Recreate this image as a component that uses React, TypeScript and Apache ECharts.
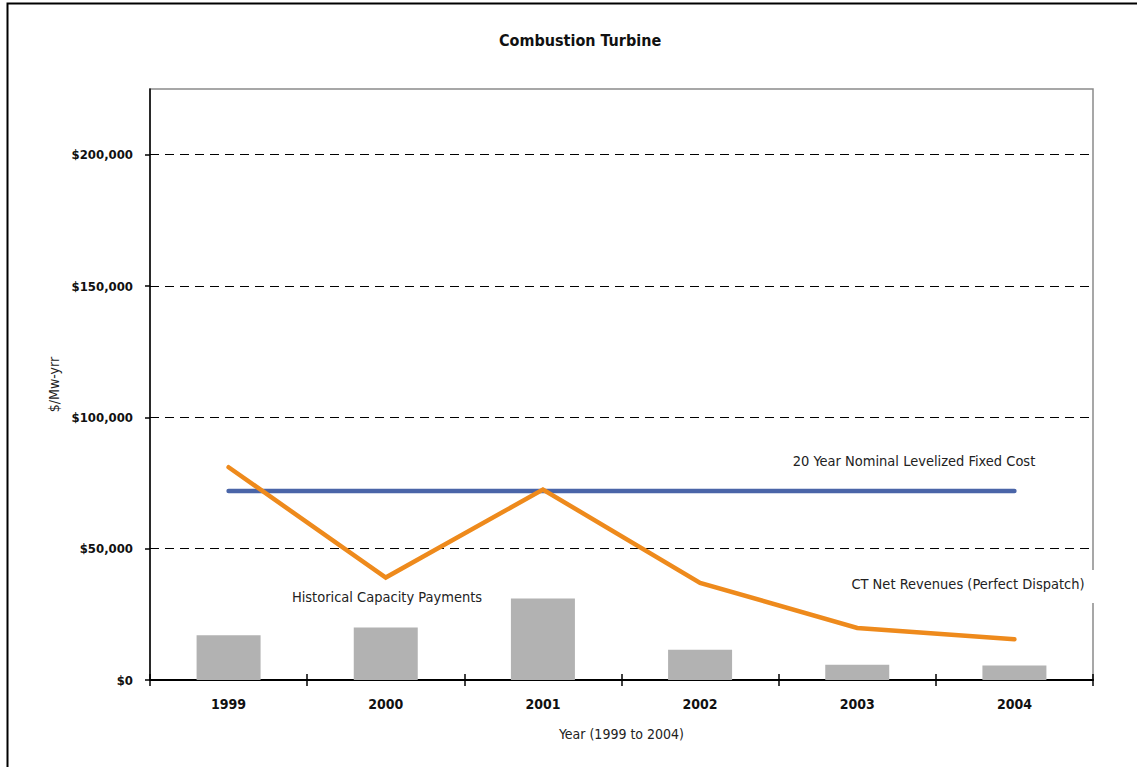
import React, { useEffect, useRef } from "react";
import * as echarts from "echarts";

const years = ["1999", "2000", "2001", "2002", "2003", "2004"];
const capacityPayments = [17000, 20000, 31000, 11500, 5800, 5500];
const ctNetRevenues = [81000, 39000, 72500, 37000, 19800, 15500];
const levelizedFixedCost = [72000, 72000, 72000, 72000, 72000, 72000];
const yTickValues = [0, 50000, 100000, 150000, 200000];

const FONT = "'Liberation Sans Narrow', 'DejaVu Sans Condensed', 'Arial Narrow', Arial, sans-serif";

function fmtMoney(v: number): string {
  return "$" + v.toLocaleString("en-US");
}

export default function App() {
  const ref = useRef<HTMLDivElement>(null);
  useEffect(() => {
    document.body.style.margin = "0";
    const chart = echarts.init(ref.current!, null, { renderer: "svg" });
    chart.setOption({
      animation: false,
      backgroundColor: "#fff",
      textStyle: { fontFamily: FONT },
      title: {
        text: "Combustion Turbine",
        left: 494,
        top: 27,
        textStyle: { fontFamily: FONT, fontSize: 16, fontWeight: "bold", color: "#111" },
      },
      grid: {
        left: 150,
        right: 44,
        top: 89,
        bottom: 87,
        show: true,
        borderColor: "#8a8a8a",
        borderWidth: 1.5,
        backgroundColor: "transparent",
      },
      xAxis: [
        {
          type: "category",
          data: years,
          boundaryGap: true,
          axisLine: { show: true, lineStyle: { color: "#000", width: 2 } },
          axisTick: { show: true, inside: false, length: 6, lineStyle: { color: "#000", width: 1.5 } },
          axisLabel: { margin: 17, fontFamily: FONT, fontSize: 14, fontWeight: "bold", color: "#111" },
          name: "Year (1999 to 2004)",
          nameLocation: "middle",
          nameGap: 47,
          nameTextStyle: { fontFamily: FONT, fontSize: 14, color: "#222" },
          splitLine: { show: false },
        },
        {
          type: "category",
          data: years,
          position: "bottom",
          boundaryGap: true,
          axisLine: { show: false },
          axisTick: { show: true, inside: true, length: 6, lineStyle: { color: "#000", width: 1.5 } },
          axisLabel: { show: false },
          splitLine: { show: false },
        },
      ],
      yAxis: {
        type: "value",
        min: 0,
        max: 225000,
        interval: 50000,
        name: "$/Mw-yrr",
        nameLocation: "middle",
        nameGap: 79,
        nameRotate: 90,
        nameTextStyle: { fontFamily: FONT, fontSize: 14, color: "#222" },
        axisLine: { show: true, lineStyle: { color: "#000", width: 1.5 } },
        axisTick: { show: true, length: 5, customValues: yTickValues, lineStyle: { color: "#000", width: 1.5 } },
        axisLabel: {
          margin: 17,
          customValues: yTickValues,
          fontFamily: FONT,
          fontSize: 13,
          fontWeight: "bold",
          color: "#111",
          formatter: (v: number) => (v > 200000 ? "" : fmtMoney(v)),
        },
        splitLine: {
          show: true,
          lineStyle: {
            color: ["#000", "#000", "#000", "#000", "#000", "rgba(0,0,0,0)"],
            type: [9, 6],
            width: 1,
          },
        },
      },
      series: [
        {
          name: "Historical Capacity Payments",
          type: "bar",
          data: capacityPayments,
          barWidth: 64,
          itemStyle: { color: "#b2b2b2" },
          z: 1,
        },
        {
          name: "20 Year Nominal Levelized Fixed Cost",
          type: "line",
          data: levelizedFixedCost,
          showSymbol: false,
          symbol: "none",
          lineStyle: { color: "#4a65a8", width: 4.5, cap: "round" },
          z: 3,
        },
        {
          name: "CT Net Revenues (Perfect Dispatch)",
          type: "line",
          data: ctNetRevenues,
          showSymbol: false,
          symbol: "none",
          lineStyle: { color: "#ee8a1c", width: 4.5, cap: "round", join: "miter" },
          z: 4,
        },
      ],
      graphic: [
        {
          type: "rect",
          shape: { x: 7.5, y: 3.5, width: 1300, height: 900 },
          style: { fill: "none", stroke: "#000", lineWidth: 2 },
          silent: true,
          z: 0,
        },
        {
          type: "text",
          x: 914,
          y: 461,
          style: {
            text: "20 Year Nominal Levelized Fixed Cost",
            fontFamily: FONT,
            fontSize: 14.5,
            fill: "#222",
            align: "center",
            verticalAlign: "middle",
          },
          z: 10,
        },
        {
          type: "rect",
          shape: { x: 848, y: 570, width: 250, height: 33 },
          style: { fill: "#fff" },
          z: 9,
        },
        {
          type: "text",
          x: 968,
          y: 584,
          style: {
            text: "CT Net Revenues (Perfect Dispatch)",
            fontFamily: FONT,
            fontSize: 14.5,
            fill: "#222",
            align: "center",
            verticalAlign: "middle",
          },
          z: 10,
        },
        {
          type: "text",
          x: 387,
          y: 597,
          style: {
            text: "Historical Capacity Payments",
            fontFamily: FONT,
            fontSize: 14.5,
            fill: "#222",
            align: "center",
            verticalAlign: "middle",
          },
          z: 10,
        },
      ],
    });
    return () => chart.dispose();
  }, []);
  return (
    <div
      ref={ref}
      style={{ position: "absolute", left: 0, top: 0, width: 1137, height: 767 }}
    />
  );
}
